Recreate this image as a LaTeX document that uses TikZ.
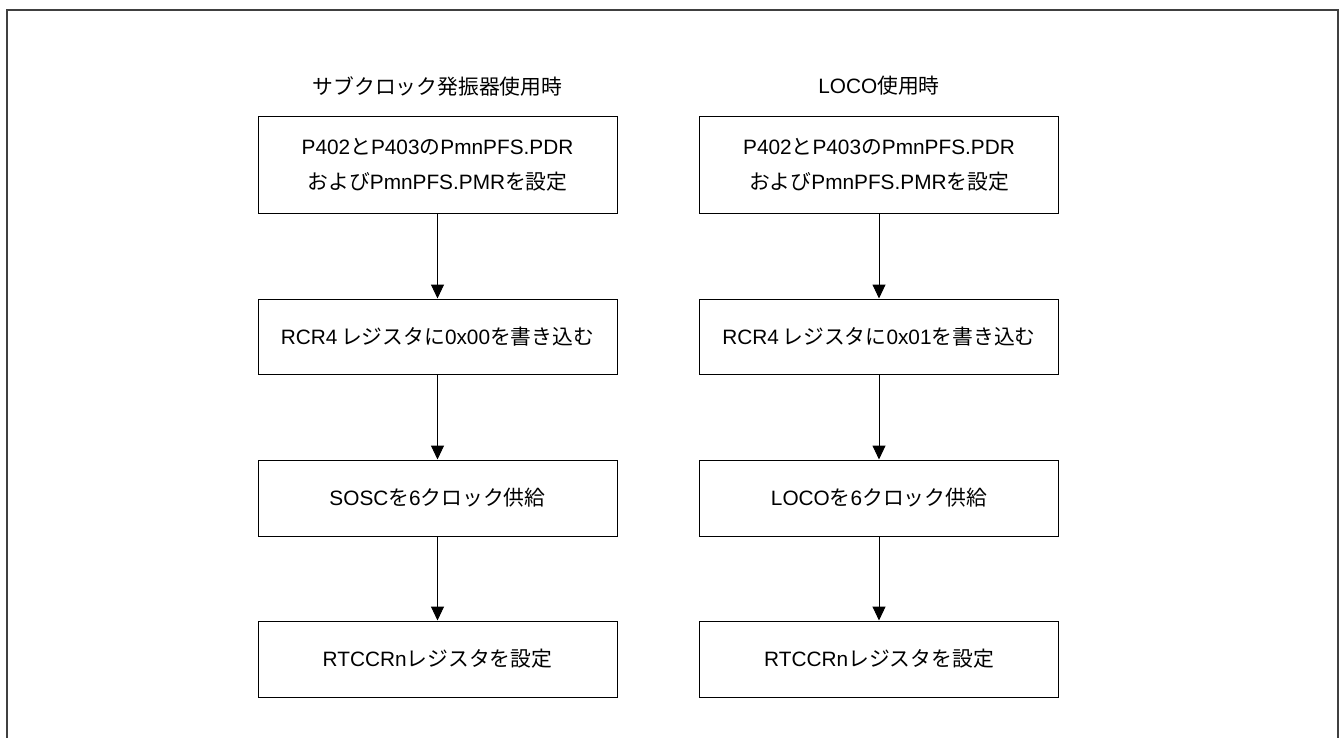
\documentclass[tikz,border=0pt]{standalone}
\usepackage{fontspec}
\setmainfont{Liberation Sans}
\newfontfamily\jpfont{Noto Sans CJK JP}
\newcommand{\jt}[1]{{\jpfont #1}}
\usetikzlibrary{arrows.meta}
\begin{document}
\begin{tikzpicture}[x=1pt,y=-1pt,
  box/.style={draw=black,line width=1pt,minimum width=359pt,inner sep=0pt,align=center,
    font=\fontsize{20.8}{35}\selectfont},
  ttl/.style={font=\fontsize{20.8}{24}\selectfont,inner sep=0pt},
  arr/.style={line width=1pt,-{Triangle[length=14pt,width=13pt]}}]
\useasboundingbox (0,0) rectangle (1340,738);
\draw[line width=2pt,black!75] (7,760) -- (7,10) -- (1338,10) -- (1338,760);
% titles
\node[ttl] (tl) at (437.5,86) {\jt{サブクロック発振器使用時}};
\node[ttl] (tr) at (879,86) {LOCO\jt{使用時}};
% left column
\node[box,minimum height=96pt] (l1) at (437.5,165) {P402\jt{と}P403\jt{の}PmnPFS.PDR\\\jt{および}PmnPFS.PMR\jt{を設定}};
\node[box,minimum height=75pt] (l2) at (437.5,336.5) {RCR4\,\jt{レジスタに}0x00\jt{を書き込む}};
\node[box,minimum height=76pt] (l3) at (437.5,498) {SOSC\jt{を}6\jt{クロック供給}};
\node[box,minimum height=76pt] (l4) at (437.5,659) {RTCCRn\jt{レジスタを設定}};
% right column
\node[box,minimum height=96pt] (r1) at (879,165) {P402\jt{と}P403\jt{の}PmnPFS.PDR\\\jt{および}PmnPFS.PMR\jt{を設定}};
\node[box,minimum height=75pt] (r2) at (879,336.5) {RCR4\,\jt{レジスタに}0x01\jt{を書き込む}};
\node[box,minimum height=76pt] (r3) at (879,498) {LOCO\jt{を}6\jt{クロック供給}};
\node[box,minimum height=76pt] (r4) at (879,659) {RTCCRn\jt{レジスタを設定}};
% arrows
\draw[arr] (l1) -- (l2);
\draw[arr] (l2) -- (l3);
\draw[arr] (l3) -- (l4);
\draw[arr] (r1) -- (r2);
\draw[arr] (r2) -- (r3);
\draw[arr] (r3) -- (r4);
\end{tikzpicture}
\end{document}
